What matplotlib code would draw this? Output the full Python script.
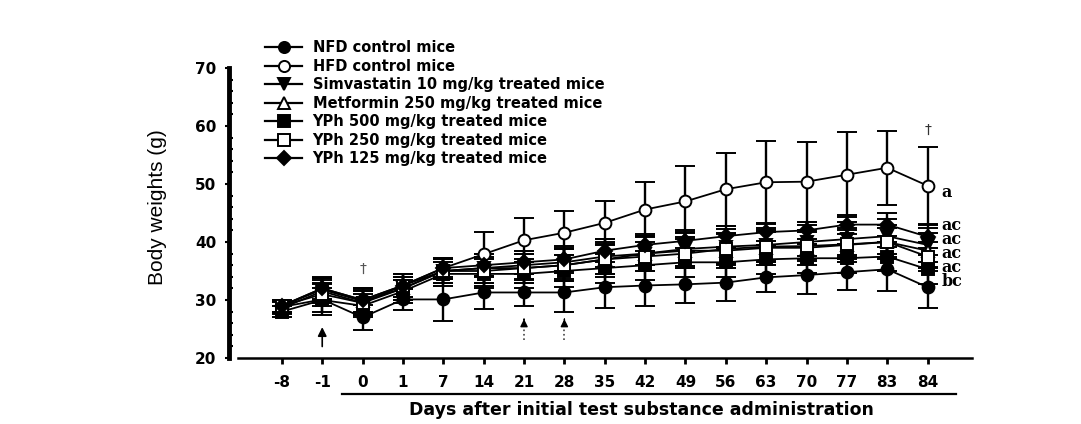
import numpy as np
import matplotlib.pyplot as plt
from matplotlib.lines import Line2D
from matplotlib.ticker import MultipleLocator
from matplotlib.transforms import blended_transform_factory

plt.rcParams['font.family'] = ['DejaVu Sans']

days = ['-8', '-1', '0', '1', '7', '14', '21', '28', '35', '42', '49', '56',
        '63', '70', '77', '83', '84']

nfd      = [28.8, 30.1, 27.0, 30.1, 30.1, 31.3, 31.3, 31.3, 32.2, 32.5, 32.7, 33.0, 33.9, 34.3, 34.8, 35.3, 32.2]
nfd_err  = [1.0, 2.6, 2.1, 1.8, 3.8, 2.8, 2.4, 3.3, 3.5, 3.5, 3.2, 3.1, 2.6, 3.3, 3.0, 3.8, 3.5]
hfd      = [29.0, 32.0, 30.0, 32.5, 35.5, 37.9, 40.3, 41.6, 43.3, 45.6, 47.0, 49.1, 50.3, 50.4, 51.6, 52.8, 49.7]
hfd_err  = [1.0, 1.8, 2.0, 2.0, 1.8, 3.8, 3.8, 3.8, 3.7, 4.8, 6.1, 6.3, 7.2, 6.9, 7.3, 6.4, 6.6]
simva    = [28.6, 31.5, 29.5, 32.0, 35.0, 35.5, 36.0, 36.5, 37.5, 38.0, 38.8, 39.2, 39.5, 40.0, 40.5, 41.0, 39.5]
simva_err = [1.0, 2.0, 2.0, 2.0, 2.0, 2.5, 2.5, 2.8, 3.0, 3.0, 3.0, 3.0, 3.0, 3.0, 3.0, 3.0, 3.0]
metf     = [29.0, 31.8, 29.8, 32.0, 35.0, 35.5, 35.5, 36.0, 37.0, 38.0, 38.5, 38.5, 39.0, 39.0, 39.5, 40.0, 38.5]
metf_err = [1.0, 2.0, 2.0, 2.0, 2.0, 2.5, 2.5, 2.8, 3.0, 3.0, 3.0, 3.0, 3.0, 3.0, 3.0, 3.0, 3.0]
yph500   = [28.0, 30.0, 29.0, 31.5, 34.5, 34.5, 34.5, 35.0, 35.5, 36.0, 36.5, 36.5, 37.0, 37.2, 37.2, 37.5, 35.3]
yph500_err = [1.0, 2.0, 2.0, 2.0, 2.0, 2.5, 2.5, 2.8, 2.5, 2.5, 2.5, 2.5, 2.5, 2.5, 2.5, 2.5, 2.5]
yph250   = [29.0, 31.0, 29.5, 32.5, 35.0, 35.0, 35.5, 36.0, 37.0, 37.5, 38.0, 38.8, 39.2, 39.3, 39.6, 40.0, 37.5]
yph250_err = [1.0, 2.0, 2.0, 2.0, 2.0, 2.5, 2.5, 2.8, 2.5, 2.5, 2.5, 2.5, 2.5, 2.5, 2.5, 2.5, 2.5]
yph125   = [29.0, 32.0, 30.0, 32.5, 35.5, 36.0, 36.5, 37.0, 38.5, 39.5, 40.2, 41.0, 41.7, 42.0, 43.0, 43.0, 40.9]
yph125_err = [1.0, 2.0, 2.0, 2.0, 1.8, 2.0, 2.0, 2.0, 2.0, 1.8, 1.8, 1.8, 1.5, 1.5, 1.7, 2.0, 2.0]

series = [
    ('NFD control mice', nfd, nfd_err, 'o', 'k'),
    ('HFD control mice', hfd, hfd_err, 'o', 'w'),
    ('Simvastatin 10 mg/kg treated mice', simva, simva_err, 'v', 'k'),
    ('Metformin 250 mg/kg treated mice', metf, metf_err, '^', 'w'),
    ('YPh 500 mg/kg treated mice', yph500, yph500_err, 's', 'k'),
    ('YPh 250 mg/kg treated mice', yph250, yph250_err, 's', 'w'),
    ('YPh 125 mg/kg treated mice', yph125, yph125_err, 'D', 'k'),
]

# significance letters at day 84
sig_top = 'a'
sig_top_y = 48.6
sig_rest = ['ac', 'ac', 'ac', 'ac', 'bc']
sig_rest_y = 38.0

fig = plt.figure(figsize=(10.81, 4.24), dpi=100)
ax = fig.add_axes([229/1081, 66/424, (972-229)/1081, 290/424])
x = np.arange(len(days))

handles = []
for label, vals, err, mk, fc in series:
    ms = 7.5 if mk == 'D' else 8.5
    ax.errorbar(x, vals, yerr=err, color='k', lw=1.3, elinewidth=1.7,
                capsize=7, capthick=1.7, marker=mk, ms=ms,
                mfc=fc, mec='k', mew=1.4)
    handles.append(Line2D([], [], color='k', lw=1.6, marker=mk, ms=ms - 0.5,
                          mfc=fc, mec='k', mew=1.4, label=label))

ax.set_xlim(-1.31, 17.1)
ax.set_ylim(20, 70)
ax.set_xticks(x)
ax.set_xticklabels(days, fontweight='bold', fontsize=11)
ax.set_yticks([20, 30, 40, 50, 60, 70])
ax.set_yticklabels(['20', '30', '40', '50', '60', '70'], fontweight='bold', fontsize=11)
ax.yaxis.set_minor_locator(MultipleLocator(2))
ax.tick_params(axis='y', which='major', direction='out', length=3, width=1.5, pad=6)
ax.tick_params(axis='y', which='minor', direction='in', length=3, width=1.5)
ax.tick_params(axis='x', which='major', direction='out', length=4, width=2, pad=8)

for s in ['top', 'right']:
    ax.spines[s].set_visible(False)
ax.spines['left'].set_linewidth(3.5)
ax.spines['bottom'].set_linewidth(1.8)
ax.spines['bottom'].set_bounds(-1.09, 17.1)

ax.set_ylabel('Body weights (g)', fontsize=15,
              family=['Liberation Sans', 'DejaVu Sans'])
ax.yaxis.set_label_coords(-0.083, 0.52)

# underline below tick labels and x label
tr = blended_transform_factory(ax.transData, ax.transAxes)
ax.plot([1.5, 16.7], [-0.124, -0.124], color='k', lw=1.6, transform=tr, clip_on=False)
ax.text(8.9, -0.148, 'Days after initial test substance administration', transform=tr,
        ha='center', va='top', fontsize=12.5, fontweight='bold')

# arrows
ax.annotate('', xy=(1, 25.8), xytext=(1, 21.5),
            arrowprops=dict(arrowstyle='-|>', color='k', lw=1.2, mutation_scale=13))
for xi in [6, 7]:
    ax.plot([xi, xi], [23.1, 26.3], color='#444444', lw=1.2, ls=':')
    ax.annotate('', xy=(xi, 27.2), xytext=(xi, 26.2),
                arrowprops=dict(arrowstyle='-|>', color='k', lw=1.0, mutation_scale=11))

# daggers
ax.text(2, 35.4, '\u2020', ha='center', va='center', fontsize=10, color='#555555')
ax.text(16, 59.3, '\u2020', ha='center', va='center', fontsize=10, color='#333333')

ax.text(16.35, sig_top_y, sig_top, ha='left', va='center', fontsize=11.5,
        fontweight='bold', family='DejaVu Serif')
ax.text(16.35, sig_rest_y, '\n'.join(sig_rest), ha='left', va='center', fontsize=11.5,
        fontweight='bold', family='DejaVu Serif', linespacing=0.76)

ax.legend(handles=handles, loc='upper left', bbox_to_anchor=(0.04, 1.115), frameon=False,
          prop={'size': 10.5, 'weight': 'bold'}, handlelength=2.6, labelspacing=0.24,
          borderaxespad=0, handletextpad=0.7)

fig.savefig('out.png', dpi=100)
